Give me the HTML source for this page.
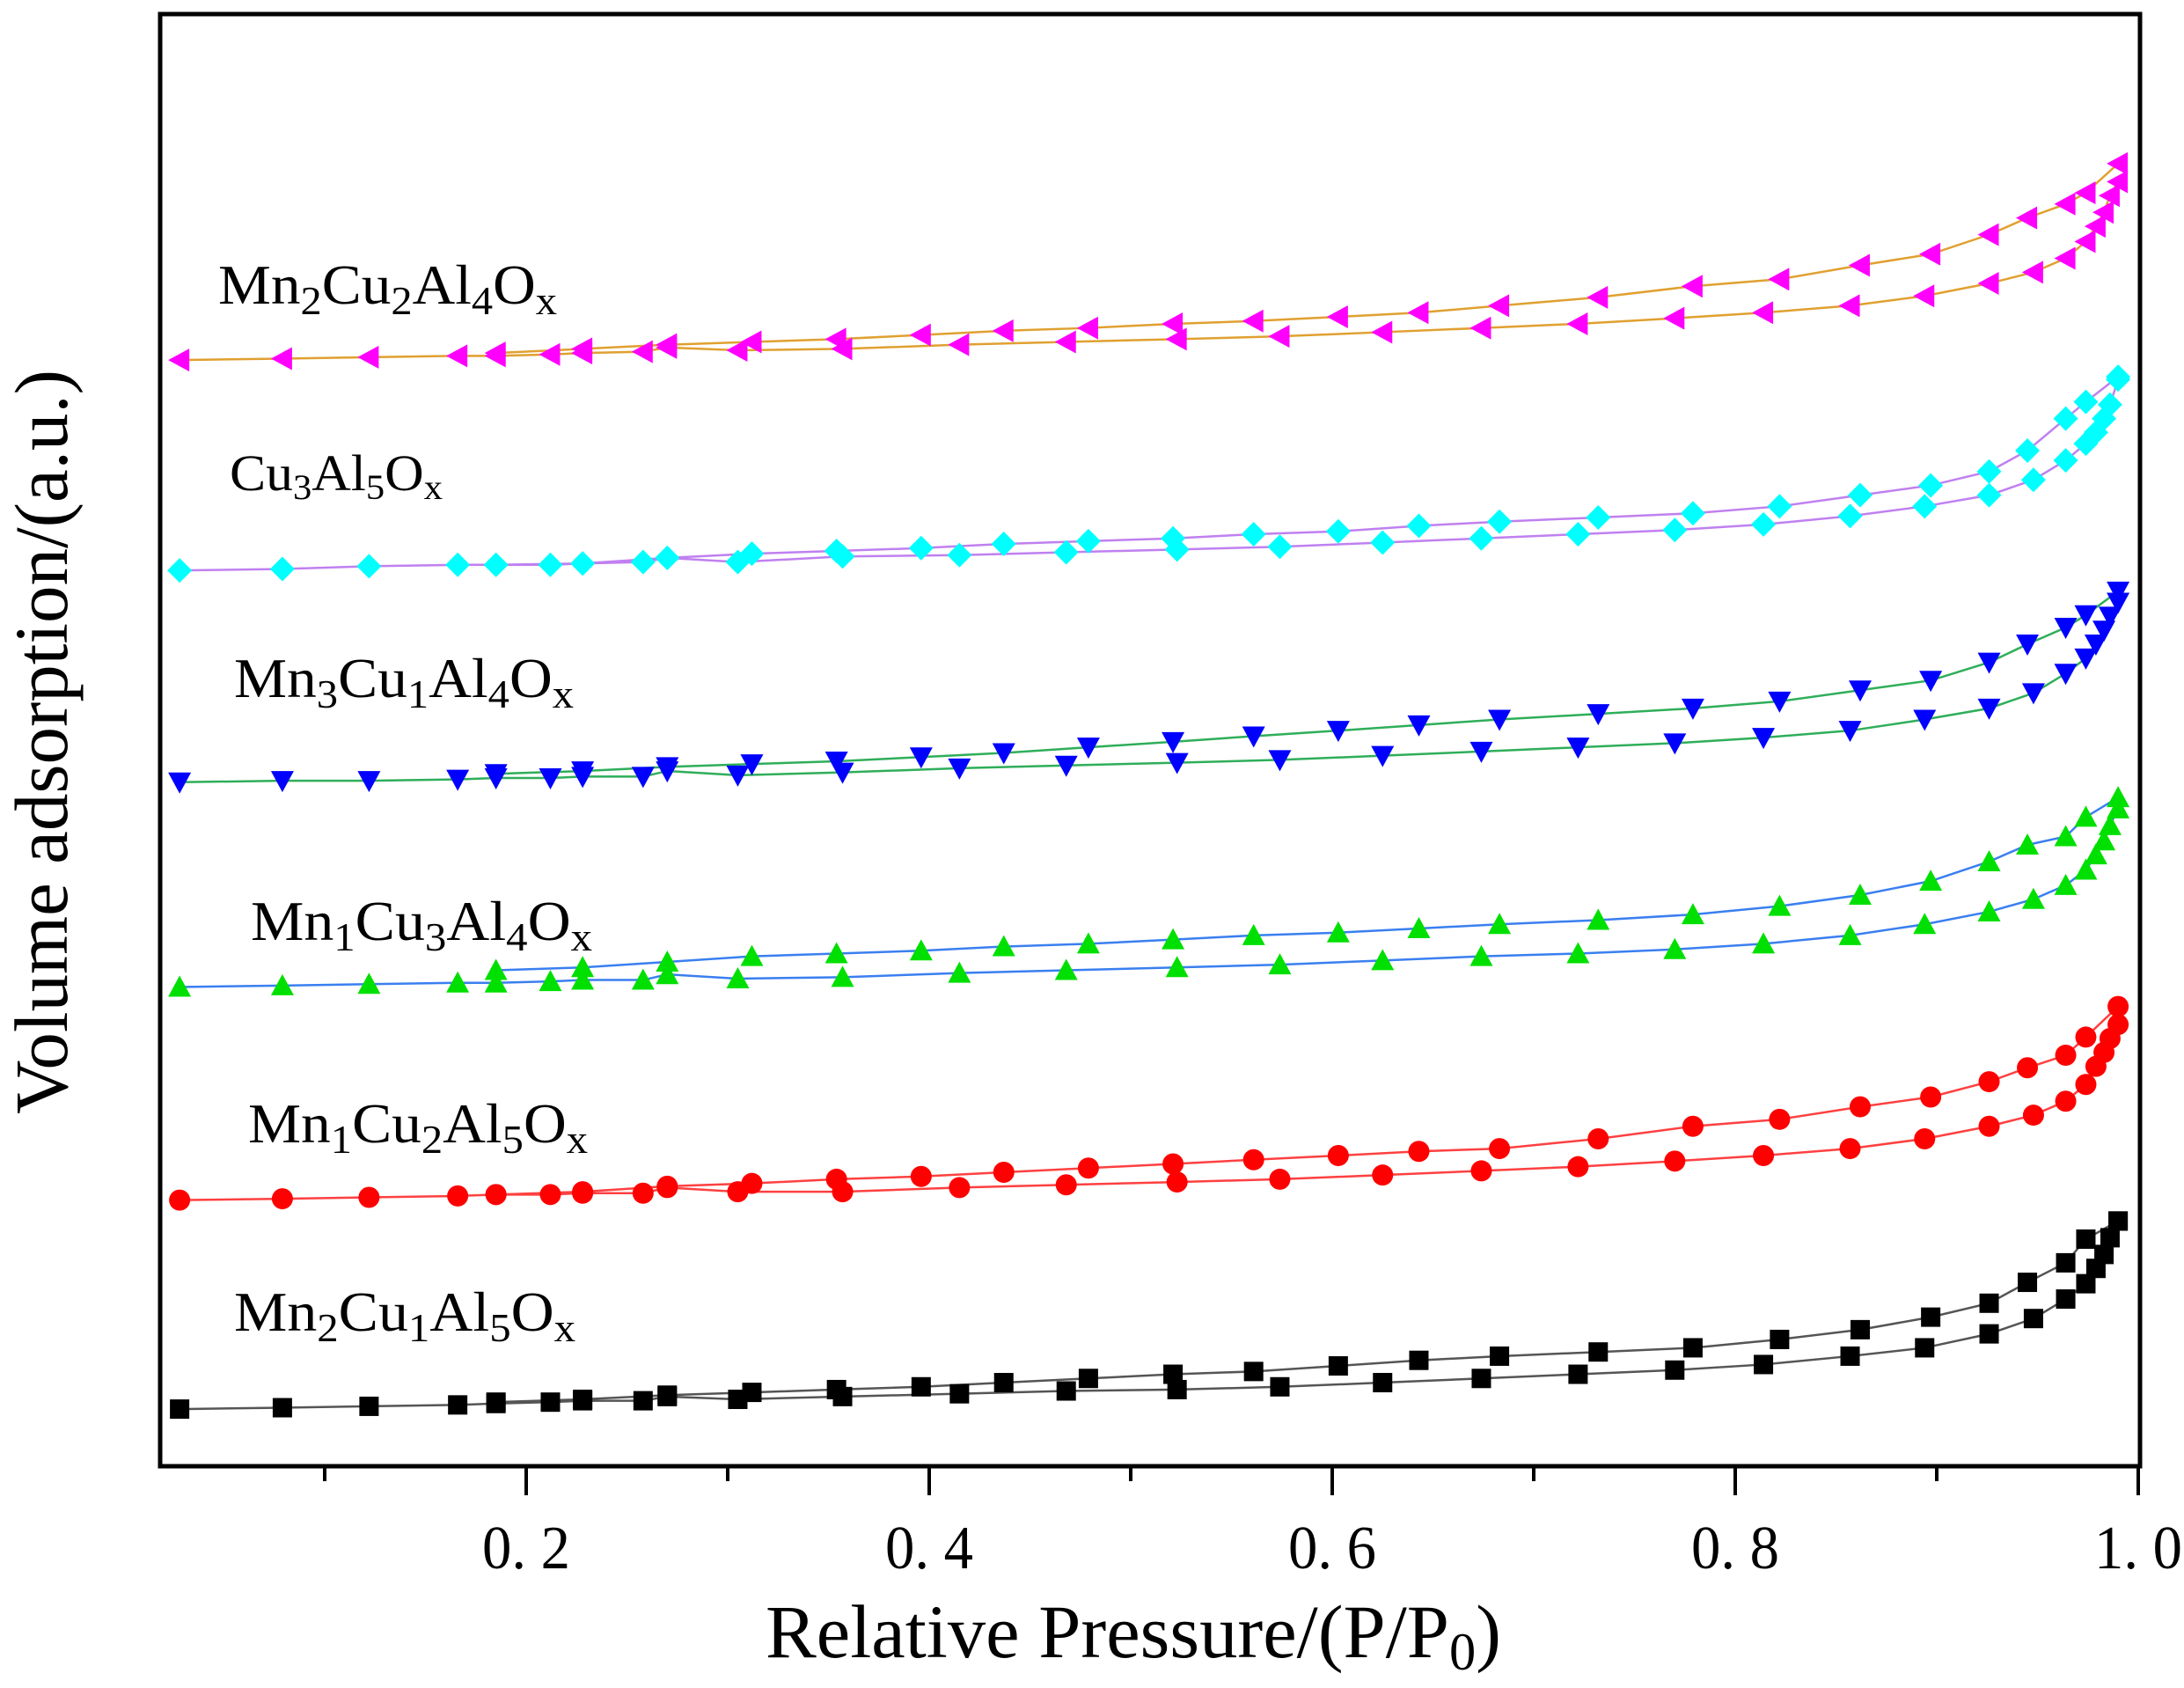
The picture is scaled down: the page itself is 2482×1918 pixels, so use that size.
<!DOCTYPE html>
<html><head><meta charset="utf-8"><style>
html,body{margin:0;padding:0;background:#fff;}
svg{display:block;font-family:"Liberation Serif",serif;}
</style></head><body>
<svg id="chart" width="2482" height="1918" viewBox="0 0 2482 1918" xmlns="http://www.w3.org/2000/svg">
<rect x="182" y="16" width="2250" height="1650" fill="none" stroke="#000" stroke-width="5"/>
<g id="ticks"></g>
<g id="series"></g>
<g font-size="64" fill="#000">
<text x="248" y="345" textLength="385" lengthAdjust="spacingAndGlyphs">Mn<tspan font-size="46" dy="12">2</tspan><tspan dy="-12">Cu</tspan><tspan font-size="46" dy="12">2</tspan><tspan dy="-12">Al</tspan><tspan font-size="46" dy="12">4</tspan><tspan dy="-12">O</tspan><tspan font-size="46" dy="12">x</tspan></text>
<text x="261" y="557" font-size="58" textLength="242" lengthAdjust="spacingAndGlyphs">Cu<tspan font-size="40" dy="10">3</tspan><tspan dy="-10">Al</tspan><tspan font-size="40" dy="10">5</tspan><tspan dy="-10">O</tspan><tspan font-size="40" dy="10">x</tspan></text>
<text x="266" y="792" textLength="386" lengthAdjust="spacingAndGlyphs">Mn<tspan font-size="46" dy="12">3</tspan><tspan dy="-12">Cu</tspan><tspan font-size="46" dy="12">1</tspan><tspan dy="-12">Al</tspan><tspan font-size="46" dy="12">4</tspan><tspan dy="-12">O</tspan><tspan font-size="46" dy="12">x</tspan></text>
<text x="285" y="1068" textLength="388" lengthAdjust="spacingAndGlyphs">Mn<tspan font-size="46" dy="12">1</tspan><tspan dy="-12">Cu</tspan><tspan font-size="46" dy="12">3</tspan><tspan dy="-12">Al</tspan><tspan font-size="46" dy="12">4</tspan><tspan dy="-12">O</tspan><tspan font-size="46" dy="12">x</tspan></text>
<text x="282" y="1298" textLength="386" lengthAdjust="spacingAndGlyphs">Mn<tspan font-size="46" dy="12">1</tspan><tspan dy="-12">Cu</tspan><tspan font-size="46" dy="12">2</tspan><tspan dy="-12">Al</tspan><tspan font-size="46" dy="12">5</tspan><tspan dy="-12">O</tspan><tspan font-size="46" dy="12">x</tspan></text>
<text x="266" y="1512" textLength="388" lengthAdjust="spacingAndGlyphs">Mn<tspan font-size="46" dy="12">2</tspan><tspan dy="-12">Cu</tspan><tspan font-size="46" dy="12">1</tspan><tspan dy="-12">Al</tspan><tspan font-size="46" dy="12">5</tspan><tspan dy="-12">O</tspan><tspan font-size="46" dy="12">x</tspan></text>
</g>
<text x="870" y="1883" font-size="86" textLength="836" lengthAdjust="spacingAndGlyphs">Relative Pressure/(P/P<tspan font-size="60" dy="14">0</tspan><tspan dy="-14">)</tspan></text>
<text transform="translate(76,1266) rotate(-90)" font-size="86" textLength="846" lengthAdjust="spacingAndGlyphs">Volume adsorption/(a.u.)</text>
</svg>
<script>
const adsP = [0.028,0.079,0.122,0.166,0.185,0.212,0.228,0.258,0.270,0.305,0.357,0.415,0.468,0.523,0.574,0.625,0.674,0.722,0.770,0.814,0.857,0.894,0.926,0.948,0.964,0.974,0.979,0.983,0.986,0.990];
const desP = [0.990,0.974,0.964,0.945,0.926,0.897,0.862,0.822,0.779,0.732,0.683,0.643,0.603,0.561,0.521,0.479,0.437,0.396,0.354,0.312,0.270,0.228,0.185];
const blackAds = [41,42,43,44,45,46,47,47,50,48,50,52,54,55,57,60,63,66,69,73,79,85,95,106,120,131,142,152,164,176];
const blackDes = [176,163,146,132,117,107,98,91,85,82,79,76,72,68,66,63,60,57,55,53,51,48,46];
const redAds = [191,192,193,194,195,195,196,196,200,197,197,200,202,204,206,209,212,215,219,223,228,235,244,252,262,274,287,297,307,317];
const redDes = [330,308,295,286,276,265,258,249,244,235,228,226,223,220,217,214,211,208,206,203,201,197,195];
const greenAds = [344,345,346,347,347,348,349,349,353,350,351,354,356,358,360,363,366,368,371,375,381,389,398,407,417,428,439,449,460,472];
const greenDes = [480,466,452,446,434,420,410,402,396,392,389,386,383,381,378,375,373,370,368,366,362,358,356];
const blueAds = [491,492,492,493,494,494,495,495,499,496,498,501,503,505,507,510,513,516,519,523,528,536,544,555,569,580,590,600,610,620];
const blueDes = [628,611,602,590,577,564,557,549,544,540,536,532,528,524,520,516,512,509,506,504,502,499,497];
const cyanAds = [643,644,646,647,647,647,648,649,652,649,653,654,656,658,660,663,666,669,672,676,682,689,697,708,722,734,742,752,762,780];
const cyanDes = [782,764,752,729,714,704,697,689,684,681,678,675,671,669,666,664,662,659,657,655,652,648,647];
const magAds = [794,795,796,797,797,798,799,800,803,801,802,805,807,809,811,814,817,820,824,828,833,840,849,857,867,879,890,900,912,922];
const magDes = [935,914,906,896,884,870,862,852,847,839,833,828,825,822,820,817,815,812,809,807,805,802,799];
const tickVals = [0.1,0.2,0.3,0.4,0.5,0.6,0.7,0.8,0.9,1.0];
const tickLabels = ["","0. 2","","0. 4","","0. 6","","0. 8","","1. 0"];

const NS = "http://www.w3.org/2000/svg";
function xS(p){ return 140 + p*2290; }
function yS(v){ return 1666 - v*1.583; }
function mk(tag, attrs, parent){ const e=document.createElementNS(NS,tag); for(const k in attrs) e.setAttribute(k,attrs[k]); parent.appendChild(e); return e; }

const tg = document.getElementById('ticks');
tickVals.forEach((t,i)=>{
  const major = tickLabels[i] !== "";
  const ln = mk('line',{x1:xS(t),x2:xS(t),y1:1666,y2:major?1699:1683,stroke:'#000','stroke-width':4},tg);
  
  
  if(major){
    const tx = mk('text',{x:xS(t)-50,y:1782,'font-size':70,textLength:100,lengthAdjust:'spacingAndGlyphs'},tg);
    tx.textContent = tickLabels[i];
    
    
  }
});

function marker(shape, x, y, color, g){
  const s = 11; let el;
  if(shape==='square') el = mk('rect',{x:x-s,y:y-s,width:2*s,height:2*s,fill:color},g);
  else if(shape==='circle') el = mk('circle',{cx:x,cy:y,r:s+1,fill:color},g);
  else if(shape==='up') el = mk('polygon',{points:`${x},${y-s-2} ${x-s-2},${y+s} ${x+s+2},${y+s}`,fill:color},g);
  else if(shape==='down') el = mk('polygon',{points:`${x},${y+s+2} ${x-s-2},${y-s} ${x+s+2},${y-s}`,fill:color},g);
  else if(shape==='diamond') el = mk('polygon',{points:`${x},${y-s-3} ${x+s+3},${y} ${x},${y+s+3} ${x-s-3},${y}`,fill:color},g);
  else el = mk('polygon',{points:`${x-s-2},${y} ${x+s},${y-s-2} ${x+s},${y+s+2}`,fill:color},g);
  
  
}

const sg = document.getElementById('series');
const defs = [
  ['mn2cu1al5ox', blackAds, blackDes, '#000', '#555', 'square'],
  ['mn1cu2al5ox', redAds, redDes, '#ff0000', '#ff4040', 'circle'],
  ['mn1cu3al4ox', greenAds, greenDes, '#00e000', '#3a7ff0', 'up'],
  ['mn3cu1al4ox', blueAds, blueDes, '#0000ff', '#2fae5a', 'down'],
  ['cu3al5ox', cyanAds, cyanDes, '#00ffff', '#c080f0', 'diamond'],
  ['mn2cu2al4ox', magAds, magDes, '#ff00ff', '#e0a030', 'left']
];
defs.forEach(d=>{
  const g = mk('g',{},sg);
  
  
  [[adsP,d[1],'adsorption'],[desP,d[2],'desorption']].forEach(b=>{
    const pts = b[0].map((p,i)=>xS(p)+','+yS(b[1][i])).join(' ');
    const pl = mk('polyline',{points:pts,fill:'none',stroke:d[4],'stroke-width':2.5},g);
    
    
  });
  [[adsP,d[1]],[desP,d[2]]].forEach(b=>{
    b[0].forEach((p,i)=>marker(d[5], xS(p), yS(b[1][i]), d[3], g));
  });
});
</script>
</body></html>
